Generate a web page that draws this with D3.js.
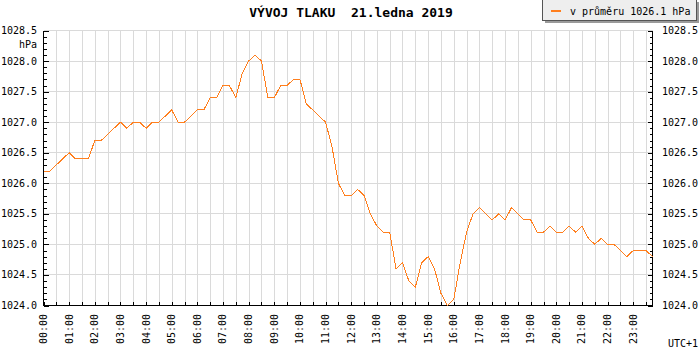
<!DOCTYPE html>
<html>
<head>
<meta charset="utf-8">
<script src="https://cdn.jsdelivr.net/npm/d3@7"></script>
<style>
  body { margin: 0; background: #fff; }
  svg text { font-family: "DejaVu Sans Mono", monospace; font-size: 10px; fill: #000; }
</style>
</head>
<body>
<div id="chart"></div>
<script>
// pressure readings, one every 15 minutes from 00:00
const stepMinutes = 15;
const pressure = [
  1026.2, 1026.2, 1026.3, 1026.4, 1026.5, 1026.4, 1026.4, 1026.4,
  1026.7, 1026.7, 1026.8, 1026.9, 1027.0, 1026.9, 1027.0, 1027.0,
  1026.9, 1027.0, 1027.0, 1027.1, 1027.2, 1027.0, 1027.0, 1027.1,
  1027.2, 1027.2, 1027.4, 1027.4, 1027.6, 1027.6, 1027.4, 1027.8,
  1028.0, 1028.1, 1028.0, 1027.4, 1027.4, 1027.6, 1027.6, 1027.7,
  1027.7, 1027.3, 1027.2, 1027.1, 1027.0, 1026.6, 1026.0, 1025.8,
  1025.8, 1025.9, 1025.8, 1025.5, 1025.3, 1025.2, 1025.2, 1024.6,
  1024.7, 1024.4, 1024.3, 1024.7, 1024.8, 1024.6, 1024.2, 1024.0,
  1024.1, 1024.7, 1025.2, 1025.5, 1025.6, 1025.5, 1025.4, 1025.5,
  1025.4, 1025.6, 1025.5, 1025.4, 1025.4, 1025.2, 1025.2, 1025.3,
  1025.2, 1025.2, 1025.3, 1025.2, 1025.3, 1025.1, 1025.0, 1025.1,
  1025.0, 1025.0, 1024.9, 1024.8, 1024.9, 1024.9, 1024.9, 1024.8
];
const hourLabels = ['00:00','01:00','02:00','03:00','04:00','05:00','06:00','07:00',
  '08:00','09:00','10:00','11:00','12:00','13:00','14:00','15:00',
  '16:00','17:00','18:00','19:00','20:00','21:00','22:00','23:00'];
const yMajorTicks = [1024.0, 1024.5, 1025.0, 1025.5, 1026.0, 1026.5, 1027.0, 1027.5, 1028.0, 1028.5];
const yDomain = [1024.0, 1028.5];
const title = 'VÝVOJ TLAKU\u00a0\u00a021.ledna 2019';
const legendText = 'v průměru 1026.1 hPa';
const unitText = 'hPa';
const zoneText = 'UTC+1';

const width = 700, height = 350;
const lineColor = '#ff7f1e';
const gridColor = '#dadada';

const svg = d3.select('#chart').append('svg')
  .attr('width', width).attr('height', height);

// scales (x in hours)
const lastHour = (pressure.length - 1) * stepMinutes / 60;
const x = d3.scaleLinear().domain([0, lastHour]).range([43.5, 652.5]);
const y = d3.scaleLinear().domain(yDomain).range([305.5, 30.5]);

// grid
const halfHours = d3.range(0, lastHour + 0.001, 0.5);
svg.append('g').selectAll('line').data(halfHours.slice(1)).join('line')
  .attr('x1', d => Math.round(x(d)) + 0.5).attr('x2', d => Math.round(x(d)) + 0.5)
  .attr('y1', y.range()[1]).attr('y2', y.range()[0])
  .attr('stroke', gridColor).attr('shape-rendering', 'crispEdges');
svg.append('g').selectAll('line').data(yMajorTicks.slice(1)).join('line')
  .attr('x1', x.range()[0]).attr('x2', x.range()[1])
  .attr('y1', d => y(d)).attr('y2', d => y(d))
  .attr('stroke', gridColor).attr('shape-rendering', 'crispEdges');

// axes
const minorTicks = d3.range(1024.0, 1028.55, 0.1).map(d => Math.round(d * 10) / 10);
const isMajor = d => Math.abs(d * 2 - Math.round(d * 2)) < 1e-6;

const axisLeft = svg.append('g').attr('transform', `translate(${x.range()[0]},0)`)
  .call(d3.axisLeft(y).tickValues(minorTicks).tickSize(-3).tickFormat(''));
const axisRight = svg.append('g').attr('transform', `translate(${x.range()[1]},0)`)
  .call(d3.axisRight(y).tickValues(minorTicks).tickSize(-3).tickFormat(''));
[axisLeft, axisRight].forEach(a => {
  a.select('.domain').attr('d', `M0,${y.range()[1]}V${y.range()[0]}`);
  a.selectAll('.tick line').filter(isMajor).attr('x2', a === axisLeft ? 5 : -5);
  a.selectAll('line, path').attr('stroke', '#000').attr('shape-rendering', 'crispEdges');
});

const axisBottom = svg.append('g').attr('transform', `translate(0,${y.range()[0]})`)
  .call(d3.axisBottom(x).tickValues(halfHours).tickSize(-4).tickFormat(''));
axisBottom.select('.domain').attr('d', `M${x.range()[0]},0H${x.range()[1]}`);
axisBottom.selectAll('line, path').attr('stroke', '#000').attr('shape-rendering', 'crispEdges');

// tick labels
svg.append('g').selectAll('text').data(yMajorTicks).join('text')
  .attr('x', 37).attr('y', d => y(d)).attr('dy', '0.35em')
  .attr('text-anchor', 'end').text(d => d.toFixed(1));
svg.append('g').selectAll('text').data(yMajorTicks).join('text')
  .attr('x', 662).attr('y', d => y(d)).attr('dy', '0.35em')
  .text(d => d.toFixed(1));
svg.append('g').selectAll('text').data(hourLabels).join('text')
  .attr('transform', (d, i) => `translate(${x(i)},314)rotate(-90)`)
  .attr('dy', '0.35em').attr('text-anchor', 'end').text(d => d);

svg.append('text').attr('x', 37).attr('y', 48).attr('text-anchor', 'end').text(unitText);
svg.append('text').attr('x', 698).attr('y', 347).attr('text-anchor', 'end').text(zoneText);

// line
const line = d3.line()
  .x((d, i) => x(i * stepMinutes / 60))
  .y(d => y(d));
svg.append('path').datum(pressure)
  .attr('d', line).attr('fill', 'none')
  .attr('stroke', lineColor).attr('stroke-width', 1)
  .attr('shape-rendering', 'crispEdges');

// title
svg.append('text').attr('x', 351).attr('y', 17).attr('text-anchor', 'middle')
  .style('font-size', '13px').style('font-weight', 'bold').text(title);

// legend
const legend = svg.append('g');
legend.append('rect').attr('x', 545).attr('y', 2).attr('width', 154).attr('height', 21)
  .attr('fill', '#9a9a9a');
legend.append('rect').attr('x', 542.5).attr('y', -0.5).attr('width', 154).attr('height', 21)
  .attr('fill', '#eeeeee').attr('stroke', '#555').attr('shape-rendering', 'crispEdges');
legend.append('line').attr('x1', 551).attr('x2', 561).attr('y1', 11).attr('y2', 11)
  .attr('stroke', lineColor).attr('stroke-width', 2);
legend.append('text').attr('x', 570).attr('y', 15).text(legendText);
</script>
</body>
</html>
